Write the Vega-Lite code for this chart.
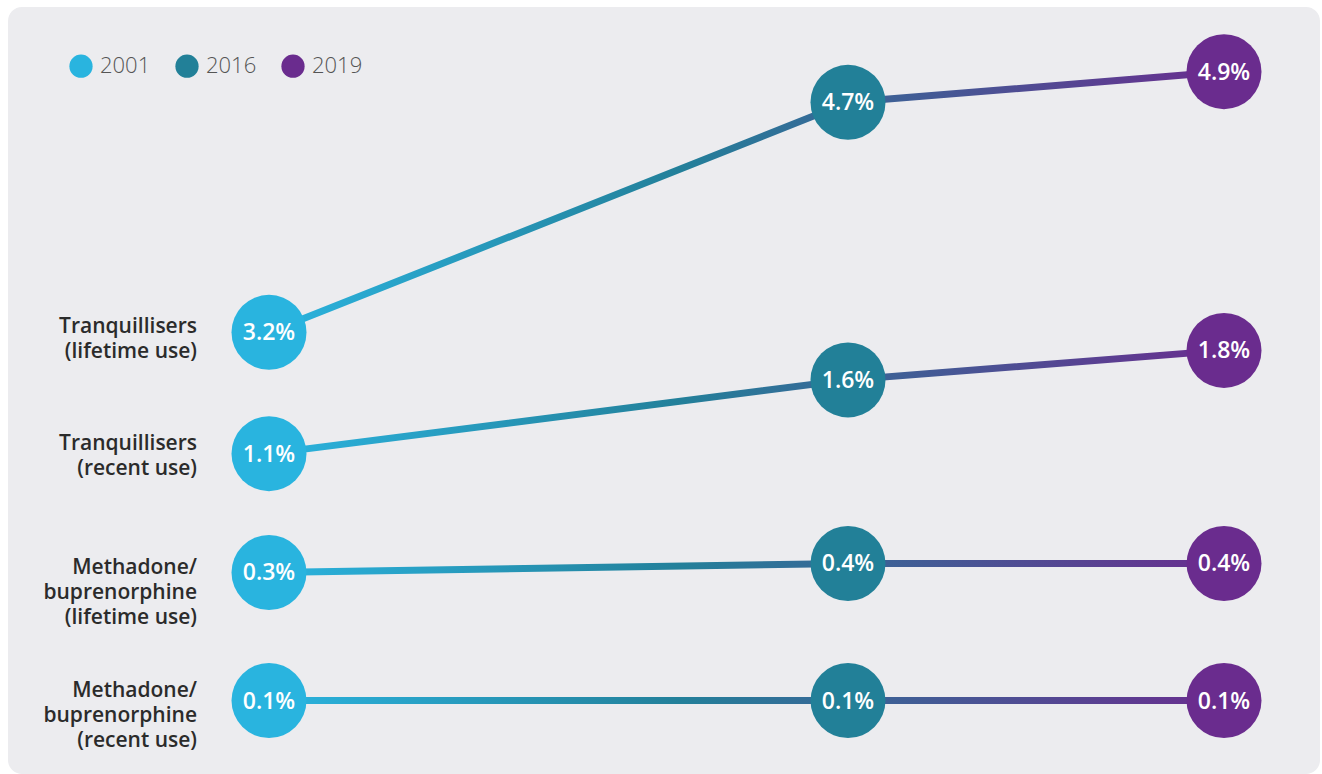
{
  "$schema": "https://vega.github.io/schema/vega-lite/v6.json",
  "width": 1322,
  "height": 774,
  "autosize": {"type": "fit", "contains": "padding"},
  "padding": {"left": 8, "top": 7, "right": 2, "bottom": 0},
  "background": "#ffffff",
  "config": {
    "font": "Open Sans",
    "view": {"fill": "#ECECEF", "stroke": null, "cornerRadius": 14},
    "legend": {
      "orient": "none",
      "legendX": 61,
      "legendY": 47,
      "direction": "horizontal",
      "symbolType": "circle",
      "symbolSize": 540,
      "symbolStrokeWidth": 0,
      "symbolOpacity": 1,
      "labelFontSize": 22,
      "labelFont": "Open Sans",
      "labelFontWeight": 300,
      "labelColor": "#555555",
      "labelOffset": 7,
      "columnPadding": 24,
      "padding": 0
    }
  },
  "data": {
    "values": [
      {"series": "Tranquillisers (lifetime use)", "label": "Tranquillisers\n(lifetime use)", "year": 2001, "value": 3.2},
      {"series": "Tranquillisers (lifetime use)", "label": "Tranquillisers\n(lifetime use)", "year": 2016, "value": 4.7},
      {"series": "Tranquillisers (lifetime use)", "label": "Tranquillisers\n(lifetime use)", "year": 2019, "value": 4.9},
      {"series": "Tranquillisers (recent use)", "label": "Tranquillisers\n(recent use)", "year": 2001, "value": 1.1},
      {"series": "Tranquillisers (recent use)", "label": "Tranquillisers\n(recent use)", "year": 2016, "value": 1.6},
      {"series": "Tranquillisers (recent use)", "label": "Tranquillisers\n(recent use)", "year": 2019, "value": 1.8},
      {"series": "Methadone/buprenorphine (lifetime use)", "label": "Methadone/\nbuprenorphine\n(lifetime use)", "year": 2001, "value": 0.3},
      {"series": "Methadone/buprenorphine (lifetime use)", "label": "Methadone/\nbuprenorphine\n(lifetime use)", "year": 2016, "value": 0.4},
      {"series": "Methadone/buprenorphine (lifetime use)", "label": "Methadone/\nbuprenorphine\n(lifetime use)", "year": 2019, "value": 0.4},
      {"series": "Methadone/buprenorphine (recent use)", "label": "Methadone/\nbuprenorphine\n(recent use)", "year": 2001, "value": 0.1},
      {"series": "Methadone/buprenorphine (recent use)", "label": "Methadone/\nbuprenorphine\n(recent use)", "year": 2016, "value": 0.1},
      {"series": "Methadone/buprenorphine (recent use)", "label": "Methadone/\nbuprenorphine\n(recent use)", "year": 2019, "value": 0.1}
    ]
  },
  "encoding": {
    "x": {
      "field": "year",
      "type": "quantitative",
      "scale": {"domain": [2001, 2016, 2019], "range": [261, 840, 1216]},
      "axis": null
    }
  },
  "layer": [
    {
      "transform": [{"filter": {"field": "series", "equal": "Tranquillisers (lifetime use)"}}],
      "encoding": {
        "y": {"field": "value", "type": "quantitative", "scale": {"domain": [0.319, 5.322], "zero": false, "nice": false}, "axis": null}
      },
      "layer": [
        {
          "mark": {"type": "trail", "fill": {"gradient": "linear", "x1": 0, "y1": 0, "x2": 1, "y2": 0, "stops": [{"offset": 0, "color": "#2BB4DF"}, {"offset": 0.43, "color": "#23809A"}, {"offset": 1, "color": "#6A2D8F"}]}},
          "encoding": {"size": {"value": 7}, "order": {"field": "year"}}
        },
        {
          "mark": {"type": "circle", "opacity": 1},
          "encoding": {
            "size": {"value": 5625},
            "color": {"field": "year", "type": "nominal", "title": null, "scale": {"domain": [2001, 2016, 2019], "range": ["#29B4DF", "#228098", "#6A2C8E"]}}
          }
        },
        {
          "mark": {"type": "text", "color": "#ffffff", "fontSize": 23, "fontWeight": 600, "dy": 1, "text": {"expr": "format(datum.value, '.1f') + '%'"}}
        },
        {
          "transform": [{"filter": "datum.year === 2001"}],
          "mark": {"type": "text", "align": "right", "baseline": "middle", "dx": -72, "dy": -5, "fontSize": 21, "fontWeight": 600, "lineHeight": 25, "lineBreak": "\n", "color": "#2B2B2B"},
          "encoding": {"text": {"field": "label"}}
        }
      ]
    },
    {
      "transform": [{"filter": {"field": "series", "equal": "Tranquillisers (recent use)"}}],
      "encoding": {
        "y": {"field": "value", "type": "quantitative", "scale": {"domain": [-1.072, 4.128], "zero": false, "nice": false}, "axis": null}
      },
      "layer": [
        {
          "mark": {"type": "trail", "fill": {"gradient": "linear", "x1": 0, "y1": 0, "x2": 1, "y2": 0, "stops": [{"offset": 0, "color": "#2BB4DF"}, {"offset": 0.43, "color": "#23809A"}, {"offset": 1, "color": "#6A2D8F"}]}},
          "encoding": {"size": {"value": 7}, "order": {"field": "year"}}
        },
        {
          "mark": {"type": "circle", "opacity": 1},
          "encoding": {
            "size": {"value": 5625},
            "color": {"field": "year", "type": "nominal", "title": null, "scale": {"domain": [2001, 2016, 2019], "range": ["#29B4DF", "#228098", "#6A2C8E"]}}
          }
        },
        {
          "mark": {"type": "text", "color": "#ffffff", "fontSize": 23, "fontWeight": 600, "dy": 1, "text": {"expr": "format(datum.value, '.1f') + '%'"}}
        },
        {
          "transform": [{"filter": "datum.year === 2001"}],
          "mark": {"type": "text", "align": "right", "baseline": "middle", "dx": -72, "dy": -10, "fontSize": 21, "fontWeight": 600, "lineHeight": 25, "lineBreak": "\n", "color": "#2B2B2B"},
          "encoding": {"text": {"field": "label"}}
        }
      ]
    },
    {
      "transform": [{"filter": {"field": "series", "equal": "Methadone/buprenorphine (lifetime use)"}}],
      "encoding": {
        "y": {"field": "value", "type": "quantitative", "scale": {"domain": [-1.939, 6.583], "zero": false, "nice": false}, "axis": null}
      },
      "layer": [
        {
          "mark": {"type": "trail", "fill": {"gradient": "linear", "x1": 0, "y1": 0, "x2": 1, "y2": 0, "stops": [{"offset": 0, "color": "#2BB4DF"}, {"offset": 0.43, "color": "#23809A"}, {"offset": 1, "color": "#6A2D8F"}]}},
          "encoding": {"size": {"value": 7}, "order": {"field": "year"}}
        },
        {
          "mark": {"type": "circle", "opacity": 1},
          "encoding": {
            "size": {"value": 5625},
            "color": {"field": "year", "type": "nominal", "title": null, "scale": {"domain": [2001, 2016, 2019], "range": ["#29B4DF", "#228098", "#6A2C8E"]}}
          }
        },
        {
          "mark": {"type": "text", "color": "#ffffff", "fontSize": 23, "fontWeight": 600, "dy": 1, "text": {"expr": "format(datum.value, '.1f') + '%'"}}
        },
        {
          "transform": [{"filter": "datum.year === 2001"}],
          "mark": {"type": "text", "align": "right", "baseline": "middle", "dx": -72, "dy": -4, "fontSize": 21, "fontWeight": 600, "lineHeight": 25, "lineBreak": "\n", "color": "#2B2B2B"},
          "encoding": {"text": {"field": "label"}}
        }
      ]
    },
    {
      "transform": [{"filter": {"field": "series", "equal": "Methadone/buprenorphine (recent use)"}}],
      "encoding": {
        "y": {"field": "value", "type": "quantitative", "scale": {"domain": [-0.635, 7.035], "zero": false, "nice": false}, "axis": null}
      },
      "layer": [
        {
          "mark": {"type": "trail", "fill": {"gradient": "linear", "x1": 0, "y1": 0, "x2": 1, "y2": 0, "stops": [{"offset": 0, "color": "#2BB4DF"}, {"offset": 0.43, "color": "#23809A"}, {"offset": 1, "color": "#6A2D8F"}]}},
          "encoding": {"size": {"value": 7}, "order": {"field": "year"}}
        },
        {
          "mark": {"type": "circle", "opacity": 1},
          "encoding": {
            "size": {"value": 5625},
            "color": {"field": "year", "type": "nominal", "title": null, "scale": {"domain": [2001, 2016, 2019], "range": ["#29B4DF", "#228098", "#6A2C8E"]}}
          }
        },
        {
          "mark": {"type": "text", "color": "#ffffff", "fontSize": 23, "fontWeight": 600, "dy": 1, "text": {"expr": "format(datum.value, '.1f') + '%'"}}
        },
        {
          "transform": [{"filter": "datum.year === 2001"}],
          "mark": {"type": "text", "align": "right", "baseline": "middle", "dx": -72, "dy": -10, "fontSize": 21, "fontWeight": 600, "lineHeight": 25, "lineBreak": "\n", "color": "#2B2B2B"},
          "encoding": {"text": {"field": "label"}}
        }
      ]
    }
  ],
  "resolve": {"scale": {"y": "independent"}}
}
